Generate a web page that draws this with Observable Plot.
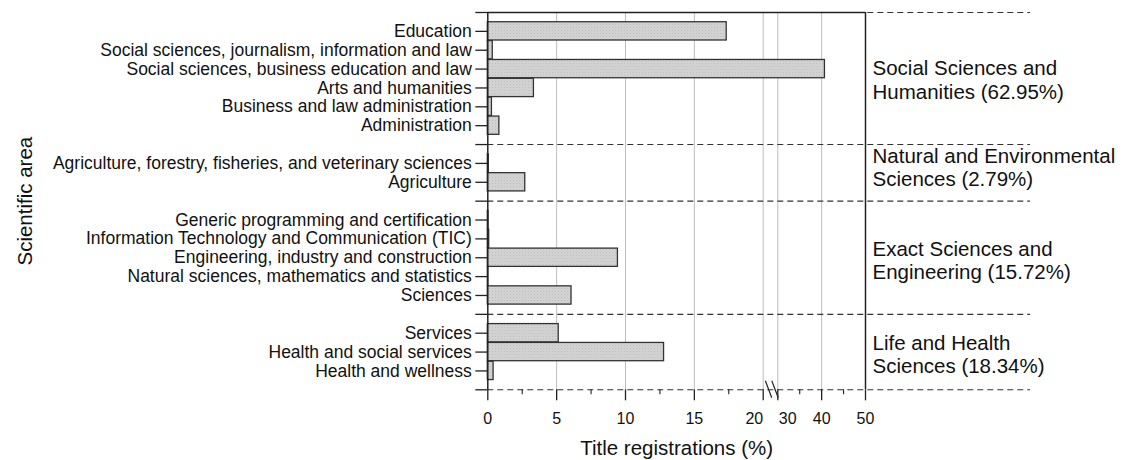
<!DOCTYPE html>
<html><head><meta charset="utf-8">
<script src="https://cdn.jsdelivr.net/npm/d3@7"></script>
<script src="https://cdn.jsdelivr.net/npm/@observablehq/plot@0.6"></script>
<style>body{margin:0;background:#fff;} svg{display:block;}</style>
</head><body>
<script>
// ---- data ----
const groupNames = [
  "Social Sciences and\nHumanities",
  "Natural and Environmental\nSciences",
  "Exact Sciences and\nEngineering",
  "Life and Health\nSciences"
];
const groupShares = ["62.95%", "2.79%", "15.72%", "18.34%"];
const groupAreas = [
  ["Education", "Social sciences, journalism, information and law", "Social sciences, business education and law", "Arts and humanities", "Business and law administration", "Administration"],
  ["Agriculture, forestry, fisheries, and veterinary sciences", "Agriculture"],
  ["Generic programming and certification", "Information Technology and Communication (TIC)", "Engineering, industry and construction", "Natural sciences, mathematics and statistics", "Sciences"],
  ["Services", "Health and social services", "Health and wellness"]
];
const groupValues = [
  [17.35, 0.36, 40.75, 3.35, 0.3, 0.84],
  [0.07, 2.72],
  [0.05, 0.1, 9.45, 0.03, 6.08],
  [5.15, 12.8, 0.42]
];
const xMajorTicks = [0, 5, 10, 15, 20, 30, 40, 50];
const xMinorTicks = [2.5, 7.5, 12.5, 17.5, 35, 45];
const xGridTicks = [5, 10, 15, 20, 30, 40];
const xBreak = [20.2, 29.5];
const xTitle = "Title registrations (%)";
const yTitle = "Scientific area";

// ---- layout ----
const W = 1124, H = 460;
const pLeft = 487.3, pRight = 865, pTop = 12, pBottom = 389.3;
const font = "'Liberation Sans', Arial, Helvetica, sans-serif";
const ink = "#222";

// rows with blank separator rows
const rows = [];
const data = [];
groupAreas.forEach((areas, g) => {
  rows.push("gap" + g);
  areas.forEach((a, i) => { rows.push(a); data.push({area: a, share: groupValues[g][i]}); });
});
rows.push("gap" + groupAreas.length);
const gapKeys = rows.filter(r => r.startsWith("gap"));
const bw = (pBottom - pTop) / (rows.length - 1);

// piecewise (broken) x scale
const seg1 = (762.7 - pLeft) / 20;
const seg2 = (865 - 777.3) / 20;
const xDomain = [0, xBreak[0], xBreak[1], 50];
const xRange = [pLeft, pLeft + xBreak[0] * seg1, 777.3 - (30 - xBreak[1]) * seg2, 865];

const labelAdjust = [1, -6, 2, 2];
const groupLabelMarks = groupAreas.map((areas, g) => {
  const n = areas.length;
  return Plot.text([groupNames[g] + " (" + groupShares[g] + ")"], {
    y: () => areas[Math.floor(n / 2)],
    frameAnchor: "right", textAnchor: "start", lineAnchor: "middle", dx: 7,
    dy: (n % 2 === 0 ? -bw / 2 : 0) + labelAdjust[g],
    fontSize: 20.5, lineHeight: 1.14, fill: "#111"
  });
});

const breakMark = (index, scales, values, dims) => {
  const g = d3.create("svg:g").attr("stroke", ink).attr("stroke-width", 1.2);
  const xm = (scales.x(xBreak[0]) + scales.x(xBreak[1])) / 2 + 1.5;
  const yb = dims.height - dims.marginBottom;
  for (const off of [-3.2, 3.2]) {
    g.append("line")
      .attr("x1", xm + off - 3.2).attr("y1", yb - 8.5)
      .attr("x2", xm + off + 3.2).attr("y2", yb + 8.5);
  }
  return g.node();
};

const tickText = {x: d => d, text: d => String(d), frameAnchor: "bottom", lineAnchor: "middle", dy: 29, fontSize: 16, fill: "#111"};

const svg = Plot.plot({
  width: W, height: H,
  marginLeft: pLeft, marginRight: W - pRight, marginTop: pTop, marginBottom: H - pBottom,
  style: {fontFamily: font, color: ink, background: "#fff"},
  x: {type: "linear", domain: xDomain, range: xRange},
  y: {type: "band", domain: rows, range: [pTop - bw / 2, pBottom + bw / 2], padding: 0, round: false},
  marks: [
    Plot.ruleX(xGridTicks, {stroke: "#bdbdbd", strokeWidth: 1}),
    Plot.barX(data, {x: "share", y: "area", fill: "url(#stip)", stroke: "#333", strokeWidth: 1.3, insetTop: 0.3, insetBottom: 0.3}),
    Plot.ruleY(gapKeys, {stroke: "#333", strokeWidth: 1.1, strokeDasharray: "6,4", insetRight: -165}),
    Plot.ruleY([gapKeys[0]], {stroke: ink, strokeWidth: 1.3}),
    Plot.ruleX([0], {stroke: ink, strokeWidth: 1.5}),
    Plot.ruleX([50], {stroke: ink, strokeWidth: 1.5}),
    Plot.axisY({tickSize: 12, tickPadding: 4, fontSize: 17.5, label: null, strokeWidth: 1.3,
      tickFormat: k => k.startsWith("gap") ? "" : k, fill: "#111"}),
    Plot.axisX({ticks: xMajorTicks, tickSize: 11, tickFormat: () => "", label: null, strokeWidth: 1.3}),
    Plot.axisX({ticks: xMinorTicks, tickSize: 5, tickFormat: () => "", label: null, strokeWidth: 1.1}),
    Plot.text(xMajorTicks.filter(t => t !== 20 && t !== 30), tickText),
    Plot.text([20], {...tickText, textAnchor: "end"}),
    Plot.text([30], {...tickText, dx: 1, textAnchor: "start"}),
    breakMark,
    Plot.text([xTitle], {frameAnchor: "bottom", lineAnchor: "middle", dy: 59, fontSize: 20.5, fill: "#111"}),
    Plot.text([yTitle], {frameAnchor: "left", textAnchor: "middle", lineAnchor: "middle", rotate: -90, dx: 25 - pLeft, fontSize: 20.5, fill: "#111"}),
    ...groupLabelMarks
  ]
});

svg.insertAdjacentHTML("afterbegin",
  '<defs><pattern id="stip" width="3" height="3" patternUnits="userSpaceOnUse">' +
  '<rect width="3" height="3" fill="#d4d4d4"/>' +
  '<rect x="0" y="0" width="1" height="1" fill="#bcbcbc"/>' +
  '<rect x="1.5" y="1.5" width="1" height="1" fill="#c4c4c4"/>' +
  '</pattern></defs>');
svg.setAttribute("overflow", "visible");
document.body.appendChild(svg);
</script>
</body></html>
